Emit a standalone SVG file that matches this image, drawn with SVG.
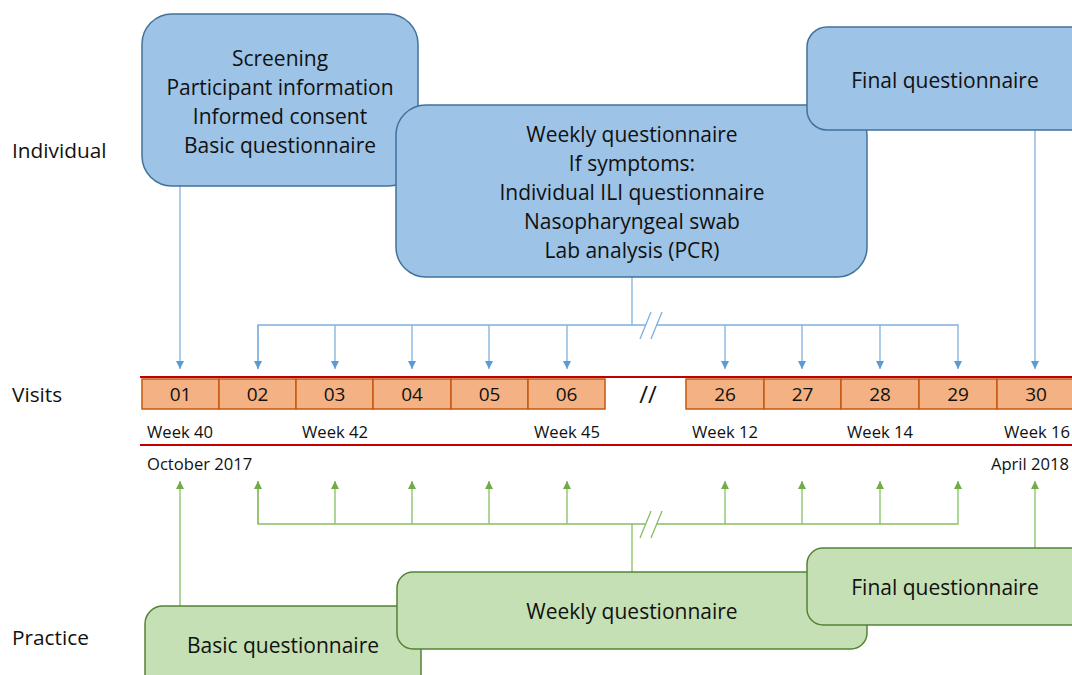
<svg xmlns="http://www.w3.org/2000/svg" width="1072" height="675" viewBox="0 0 1072 675">
<defs>
<style>
text{font-family:"Open Sans","Liberation Sans",sans-serif;fill:#111;}
.big{font-size:21px;text-anchor:middle;}
.lab{font-size:20.8px;}
.num{font-size:19px;text-anchor:middle;}
.wk{font-size:16.6px;}
.bbox{fill:#9DC3E6;stroke:#41719C;stroke-width:1.5;}
.gbox{fill:#C5E0B4;stroke:#548235;stroke-width:1.5;}
.visit{fill:#F4B183;stroke:#C55A11;stroke-width:1.5;}
.bl{stroke:#7FB0DE;stroke-width:1.3;fill:none;}
.gl{stroke:#86BF64;stroke-width:1.3;fill:none;}
.red{stroke:#C00000;stroke-width:2;}
</style>
<marker id="ab" viewBox="0 0 10 10" refX="10" refY="5" markerWidth="8" markerHeight="8" markerUnits="userSpaceOnUse" orient="auto"><path d="M0,0 L10,5 L0,10 z" fill="#5B9BD5"/></marker>
<marker id="ag" viewBox="0 0 10 10" refX="10" refY="5" markerWidth="8" markerHeight="8" markerUnits="userSpaceOnUse" orient="auto"><path d="M0,0 L10,5 L0,10 z" fill="#70AD47"/></marker>
</defs>
<rect width="1072" height="675" fill="#fff"/>

<g id="labels">
<text class="lab" x="12" y="158">Individual</text>
<text class="lab" x="12" y="402">Visits</text>
<text class="lab" x="12" y="645">Practice</text>
</g>

<g id="connectors">
<line class="bl" x1="180" y1="186" x2="180" y2="369" marker-end="url(#ab)"/>
<line class="bl" x1="632" y1="277" x2="632" y2="325"/>
<polyline class="bl" points="258,369 258,325 958,325 958,369" marker-end="url(#ab)"/>
<line class="bl" x1="258" y1="325" x2="258" y2="369" marker-end="url(#ab)"/>
<line class="bl" x1="335" y1="325" x2="335" y2="369" marker-end="url(#ab)"/>
<line class="bl" x1="412" y1="325" x2="412" y2="369" marker-end="url(#ab)"/>
<line class="bl" x1="489" y1="325" x2="489" y2="369" marker-end="url(#ab)"/>
<line class="bl" x1="567" y1="325" x2="567" y2="369" marker-end="url(#ab)"/>
<line class="bl" x1="725" y1="325" x2="725" y2="369" marker-end="url(#ab)"/>
<line class="bl" x1="802" y1="325" x2="802" y2="369" marker-end="url(#ab)"/>
<line class="bl" x1="880" y1="325" x2="880" y2="369" marker-end="url(#ab)"/>
<line class="bl" x1="1035" y1="130" x2="1035" y2="369" marker-end="url(#ab)"/>
<polygon points="640,339 651,312 662,312 651,339" fill="#fff"/>
<line class="bl" x1="640" y1="339" x2="651" y2="312"/>
<line class="bl" x1="651" y1="339" x2="662" y2="312"/>

<line class="gl" x1="180" y1="606" x2="180" y2="481" marker-end="url(#ag)"/>
<line class="gl" x1="632" y1="572" x2="632" y2="524"/>
<polyline class="gl" points="258,481 258,524 958,524 958,481" marker-end="url(#ag)"/>
<line class="gl" x1="258" y1="524" x2="258" y2="481" marker-end="url(#ag)"/>
<line class="gl" x1="335" y1="524" x2="335" y2="481" marker-end="url(#ag)"/>
<line class="gl" x1="412" y1="524" x2="412" y2="481" marker-end="url(#ag)"/>
<line class="gl" x1="489" y1="524" x2="489" y2="481" marker-end="url(#ag)"/>
<line class="gl" x1="567" y1="524" x2="567" y2="481" marker-end="url(#ag)"/>
<line class="gl" x1="725" y1="524" x2="725" y2="481" marker-end="url(#ag)"/>
<line class="gl" x1="802" y1="524" x2="802" y2="481" marker-end="url(#ag)"/>
<line class="gl" x1="880" y1="524" x2="880" y2="481" marker-end="url(#ag)"/>
<line class="gl" x1="1035" y1="548" x2="1035" y2="481" marker-end="url(#ag)"/>
<polygon points="640,538 651,511 662,511 651,538" fill="#fff"/>
<line class="gl" x1="640" y1="538" x2="651" y2="511"/>
<line class="gl" x1="651" y1="538" x2="662" y2="511"/>
</g>

<g id="ind-basic">
<rect class="bbox" x="142" y="14" width="276" height="172" rx="30"/>
<text class="big" x="280" y="66">Screening</text>
<text class="big" x="280" y="95">Participant information</text>
<text class="big" x="280" y="124">Informed consent</text>
<text class="big" x="280" y="153">Basic questionnaire</text>
</g>
<g id="ind-weekly">
<rect class="bbox" x="396" y="105" width="471" height="172" rx="30"/>
<text class="big" x="632" y="142">Weekly questionnaire</text>
<text class="big" x="632" y="171">If symptoms:</text>
<text class="big" x="632" y="200">Individual ILI questionnaire</text>
<text class="big" x="632" y="229">Nasopharyngeal swab</text>
<text class="big" x="632" y="258">Lab analysis (PCR)</text>
</g>
<g id="ind-final">
<rect class="bbox" x="807" y="27" width="300" height="103" rx="20"/>
<text class="big" x="945" y="88">Final questionnaire</text>
</g>

<g id="timeline">
<line class="red" x1="140" y1="377" x2="1072" y2="377"/>
<line class="red" x1="140" y1="445" x2="1072" y2="445"/>
<g id="v01"><rect class="visit" x="142" y="379" width="77" height="30"/><text class="num" x="180.5" y="401">01</text></g>
<g id="v02"><rect class="visit" x="219" y="379" width="77" height="30"/><text class="num" x="257.5" y="401">02</text></g>
<g id="v03"><rect class="visit" x="296" y="379" width="77" height="30"/><text class="num" x="334.5" y="401">03</text></g>
<g id="v04"><rect class="visit" x="373" y="379" width="78" height="30"/><text class="num" x="412" y="401">04</text></g>
<g id="v05"><rect class="visit" x="451" y="379" width="77" height="30"/><text class="num" x="489.5" y="401">05</text></g>
<g id="v06"><rect class="visit" x="528" y="379" width="77" height="30"/><text class="num" x="566.5" y="401">06</text></g>
<text x="648" y="403" font-size="24" text-anchor="middle" font-family="Liberation Sans, sans-serif">//</text>
<g id="v26"><rect class="visit" x="686" y="379" width="78" height="30"/><text class="num" x="725" y="401">26</text></g>
<g id="v27"><rect class="visit" x="764" y="379" width="77" height="30"/><text class="num" x="802.5" y="401">27</text></g>
<g id="v28"><rect class="visit" x="841" y="379" width="78" height="30"/><text class="num" x="880" y="401">28</text></g>
<g id="v29"><rect class="visit" x="919" y="379" width="78" height="30"/><text class="num" x="958" y="401">29</text></g>
<g id="v30"><rect class="visit" x="997" y="379" width="78" height="30"/><text class="num" x="1036" y="401">30</text></g>
<text class="wk" x="147" y="438">Week 40</text>
<text class="wk" x="302" y="438">Week 42</text>
<text class="wk" x="534" y="438">Week 45</text>
<text class="wk" x="692" y="438">Week 12</text>
<text class="wk" x="847" y="438">Week 14</text>
<text class="wk" x="1004" y="438">Week 16</text>
<text class="wk" x="147" y="470">October 2017</text>
<text class="wk" x="1069" y="470" text-anchor="end">April 2018</text>
</g>

<g id="pr-basic">
<rect class="gbox" x="145" y="606" width="276" height="100" rx="18"/>
<text class="big" x="283" y="653">Basic questionnaire</text>
</g>
<g id="pr-weekly">
<rect class="gbox" x="397" y="572" width="470" height="77" rx="16"/>
<text class="big" x="632" y="619">Weekly questionnaire</text>
</g>
<g id="pr-final">
<rect class="gbox" x="807" y="548" width="300" height="77" rx="16"/>
<text class="big" x="945" y="595">Final questionnaire</text>
</g>
</svg>
